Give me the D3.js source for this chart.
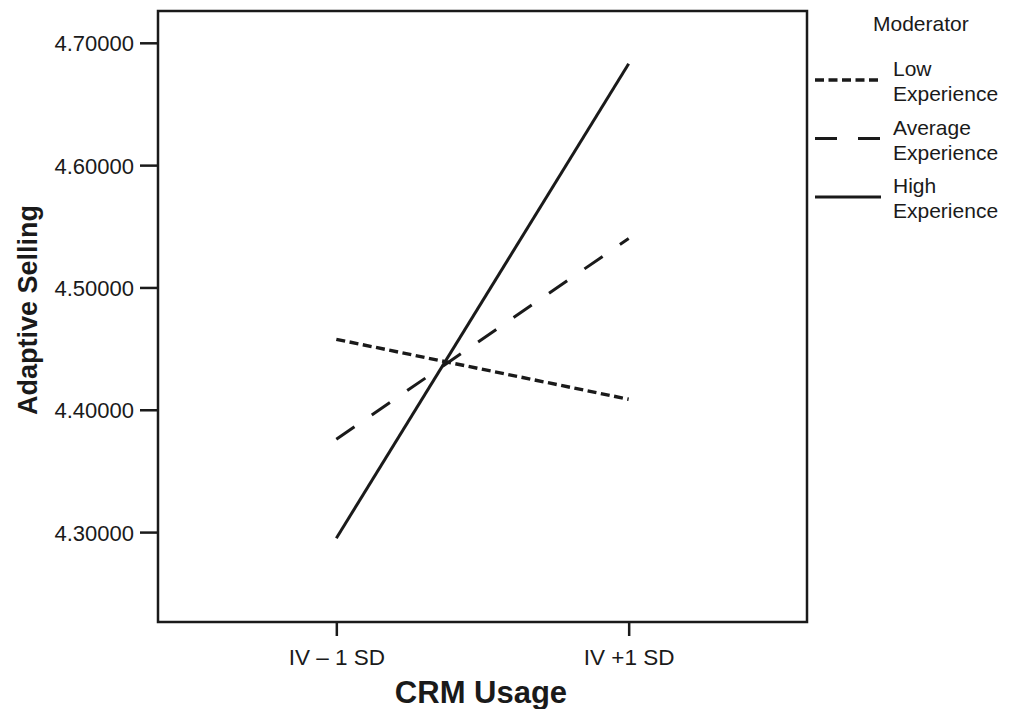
<!DOCTYPE html>
<html>
<head>
<meta charset="utf-8">
<style>
  body { margin: 0; background: #fff; }
  svg { font-family: "Liberation Sans", Arial, sans-serif; }
  .axis path, .axis line { stroke: #1a1a1a; }
  .axis text { fill: #1a1a1a; }
</style>
<title>Adaptive Selling by CRM Usage</title>
</head>
<body>
<div id="chart"></div>
<script src="https://d3js.org/d3.v7.min.js"></script>
<script>
// values
var categories = ["IV \u2013 1 SD", "IV +1 SD"];
var lowExperience = [4.4576, 4.4086];
var averageExperience = [4.3759, 4.5400];
var highExperience = [4.2950, 4.6829];
var yTicks = [4.3, 4.4, 4.5, 4.6, 4.7];
var seriesNames = ["Low Experience", "Average Experience", "High Experience"];

var width = 1012, height = 709;
var plotLeft = 158, plotRight = 807, plotTop = 11, plotBottom = 622;

var svg = d3.select("#chart").append("svg")
    .attr("width", width)
    .attr("height", height);

var x = d3.scalePoint()
    .domain(categories)
    .range([plotLeft, plotRight])
    .padding(0.61);

var y = d3.scaleLinear()
    .domain([4.2265, 4.726])
    .range([plotBottom, plotTop]);

var series = [
  {name: seriesNames[0], values: lowExperience, dash: "9,4.5", w: 3.4},
  {name: seriesNames[1], values: averageExperience, dash: "22,21", w: 3},
  {name: seriesNames[2], values: highExperience, dash: null, w: 3}
];

// frame
svg.append("rect")
    .attr("x", plotLeft)
    .attr("y", plotTop)
    .attr("width", plotRight - plotLeft)
    .attr("height", plotBottom - plotTop)
    .attr("fill", "none")
    .attr("stroke", "#1a1a1a")
    .attr("stroke-width", 2.5);

// y axis
var yAxis = svg.append("g")
    .attr("class", "axis")
    .attr("transform", "translate(" + plotLeft + ",0)")
    .call(d3.axisLeft(y).tickValues(yTicks).tickFormat(d3.format(".5f")).tickSize(18).tickPadding(6));
yAxis.select(".domain").remove();
yAxis.selectAll("line").attr("stroke-width", 2.5);
yAxis.selectAll("text").attr("font-size", 22).attr("dy", "0.36em");

// x axis
var xAxis = svg.append("g")
    .attr("class", "axis")
    .attr("transform", "translate(0," + plotBottom + ")")
    .call(d3.axisBottom(x).tickSize(14).tickPadding(8));
xAxis.select(".domain").remove();
xAxis.selectAll("line").attr("stroke-width", 2.5);
xAxis.selectAll("text").attr("font-size", 22.5).attr("dy", "0.95em");

// axis titles
svg.append("text")
    .attr("x", 481)
    .attr("y", 703)
    .attr("text-anchor", "middle")
    .attr("font-size", 31)
    .attr("font-weight", "bold")
    .attr("fill", "#1a1a1a")
    .text("CRM Usage");

svg.append("text")
    .attr("transform", "translate(37,310) rotate(-90)")
    .attr("text-anchor", "middle")
    .attr("font-size", 27)
    .attr("font-weight", "bold")
    .attr("fill", "#1a1a1a")
    .text("Adaptive Selling");

// lines
var line = d3.line()
    .x(function(d, i) { return x(categories[i]); })
    .y(function(d) { return y(d); });

svg.append("g")
    .selectAll("path")
    .data(series)
    .enter().append("path")
      .attr("d", function(d) { return line(d.values); })
      .attr("fill", "none")
      .attr("stroke", "#1a1a1a")
      .attr("stroke-width", function(d) { return d.w; })
      .attr("stroke-dasharray", function(d) { return d.dash; });

// legend
svg.append("text")
    .attr("x", 873)
    .attr("y", 31)
    .attr("font-size", 21)
    .attr("fill", "#1a1a1a")
    .text("Moderator");

var legend = svg.append("g")
    .selectAll("g")
    .data(series)
    .enter().append("g")
      .attr("transform", function(d, i) { return "translate(815," + (80 + i * 58.5) + ")"; });

legend.append("line")
    .attr("x1", 0)
    .attr("x2", 66)
    .attr("stroke", "#1a1a1a")
    .attr("stroke-width", function(d) { return d.w; })
    .attr("stroke-dasharray", function(d) { return d.dash; });

legend.append("text")
    .attr("x", 78)
    .attr("y", -4)
    .attr("font-size", 21)
    .attr("fill", "#1a1a1a")
    .text(function(d) { return d.name.split(" ")[0]; });

legend.append("text")
    .attr("x", 78)
    .attr("y", 21)
    .attr("font-size", 21)
    .attr("fill", "#1a1a1a")
    .text(function(d) { return d.name.split(" ")[1]; });
</script>
</body>
</html>
